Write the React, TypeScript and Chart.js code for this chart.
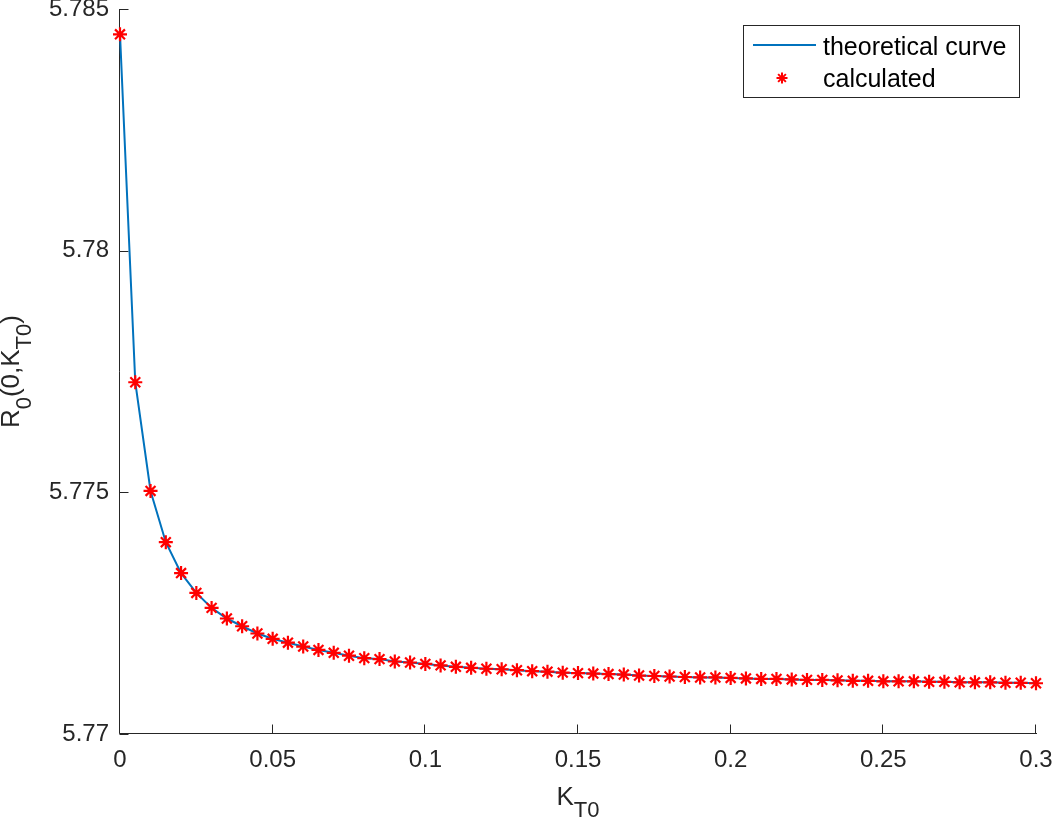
import React, { useEffect, useRef } from "react";
import { Chart, registerables } from "chart.js";

Chart.register(...registerables);

// ---- Data ----
const kT0Values = [
  0, 0.005, 0.01, 0.015, 0.02, 0.025, 0.03, 0.035, 0.04, 0.045,
  0.05, 0.055, 0.06, 0.065, 0.07, 0.075, 0.08, 0.085, 0.09, 0.095,
  0.1, 0.105, 0.11, 0.115, 0.12, 0.125, 0.13, 0.135, 0.14, 0.145,
  0.15, 0.155, 0.16, 0.165, 0.17, 0.175, 0.18, 0.185, 0.19, 0.195,
  0.2, 0.205, 0.21, 0.215, 0.22, 0.225, 0.23, 0.235, 0.24, 0.245,
  0.25, 0.255, 0.26, 0.265, 0.27, 0.275, 0.28, 0.285, 0.29, 0.295,
  0.3,
];

const calculatedR0 = [
  5.78448, 5.77728, 5.77503, 5.77397, 5.77333, 5.77292, 5.77261, 5.77239, 5.77223, 5.77208,
  5.77197, 5.77189, 5.77181, 5.77174, 5.77168, 5.77162, 5.77157, 5.77155, 5.7715, 5.77148,
  5.77145, 5.77142, 5.77139, 5.77137, 5.77135, 5.77134, 5.77132, 5.7713, 5.77129, 5.77127,
  5.77126, 5.77125, 5.77124, 5.77123, 5.77121, 5.7712, 5.77119, 5.77118, 5.77117, 5.77117,
  5.77116, 5.77115, 5.77114, 5.77114, 5.77113, 5.77112, 5.77112, 5.77111, 5.7711, 5.7711,
  5.77109, 5.77109, 5.77109, 5.77108, 5.77108, 5.77107, 5.77107, 5.77107, 5.77106, 5.77106,
  5.77105,
];

const theoreticalR0 = [
  5.78448, 5.77728, 5.77503, 5.77397, 5.77333, 5.77292, 5.77261, 5.77239, 5.77223, 5.77208,
  5.77197, 5.77189, 5.77181, 5.77174, 5.77168, 5.77162, 5.77157, 5.77155, 5.7715, 5.77148,
  5.77145, 5.77142, 5.77139, 5.77137, 5.77135, 5.77134, 5.77132, 5.7713, 5.77129, 5.77127,
  5.77126, 5.77125, 5.77124, 5.77123, 5.77121, 5.7712, 5.77119, 5.77118, 5.77117, 5.77117,
  5.77116, 5.77115, 5.77114, 5.77114, 5.77113, 5.77112, 5.77112, 5.77111, 5.7711, 5.7711,
  5.77109, 5.77109, 5.77109, 5.77108, 5.77108, 5.77107, 5.77107, 5.77107, 5.77106, 5.77106,
  5.77105,
];

const xTickValues = [0, 0.05, 0.1, 0.15, 0.2, 0.25, 0.3];
const yTickValues = [5.77, 5.775, 5.78, 5.785];

const legendLabels = ["theoretical curve", "calculated"];

const FONT = "'Liberation Sans', Arial, Helvetica, sans-serif";
const AXIS_COLOR = "#262626";
const LINE_COLOR = "#0072BD";
const MARKER_COLOR = "#FF0000";

function drawAsterisk(ctx: CanvasRenderingContext2D, x: number, y: number, r: number) {
  ctx.beginPath();
  for (let i = 0; i < 4; i++) {
    const a = (i * Math.PI) / 4;
    const dx = Math.sin(a) * r;
    const dy = Math.cos(a) * r;
    ctx.moveTo(x - dx, y - dy);
    ctx.lineTo(x + dx, y + dy);
  }
  ctx.stroke();
}

type Part = { text: string; sub?: boolean };

function drawParts(
  ctx: CanvasRenderingContext2D,
  parts: Part[],
  cx: number,
  baseline: number,
  mainSize: number,
  subSize: number,
  subDrop: number
) {
  const mainFont = `${mainSize}px ${FONT}`;
  const subFont = `${subSize}px ${FONT}`;
  let total = 0;
  const widths = parts.map((p) => {
    ctx.font = p.sub ? subFont : mainFont;
    const w = ctx.measureText(p.text).width;
    total += w;
    return w;
  });
  let x = cx - total / 2;
  ctx.textAlign = "left";
  ctx.textBaseline = "alphabetic";
  parts.forEach((p, i) => {
    ctx.font = p.sub ? subFont : mainFont;
    ctx.fillText(p.text, x, baseline + (p.sub ? subDrop : 0));
    x += widths[i];
  });
}

const matlabPlugin = {
  id: "matlabDecor",
  beforeDatasetsDraw(chart: any) {
    const { ctx, chartArea, scales } = chart;
    const xs = scales.x;
    const ys = scales.y;
    const left = Math.round(chartArea.left) - 0.5;
    const bottom = Math.round(chartArea.bottom) - 0.5;
    ctx.save();
    ctx.strokeStyle = AXIS_COLOR;
    ctx.lineWidth = 1;
    ctx.beginPath();
    ctx.moveTo(left, Math.round(chartArea.top));
    ctx.lineTo(left, bottom);
    ctx.lineTo(Math.round(chartArea.right) + 1, bottom);
    ctx.stroke();
    const tl = 9;
    ctx.beginPath();
    xTickValues.forEach((v) => {
      const px = Math.round(xs.getPixelForValue(v)) - 0.5;
      ctx.moveTo(px, bottom);
      ctx.lineTo(px, bottom - tl);
    });
    yTickValues.forEach((v) => {
      const py = Math.round(ys.getPixelForValue(v)) + 0.5;
      ctx.moveTo(left, py);
      ctx.lineTo(left + tl, py);
    });
    ctx.stroke();
    ctx.restore();
  },
  afterDraw(chart: any) {
    const { ctx, chartArea } = chart;
    ctx.save();
    ctx.fillStyle = AXIS_COLOR;

    // x-axis title: K_{T0}
    drawParts(
      ctx,
      [{ text: "K" }, { text: "T0", sub: true }],
      (chartArea.left + chartArea.right) / 2,
      805,
      26,
      22,
      12
    );

    // y-axis title: R_0(0,K_{T0})
    ctx.save();
    ctx.translate(19, (chartArea.top + chartArea.bottom) / 2);
    ctx.rotate(-Math.PI / 2);
    drawParts(
      ctx,
      [{ text: "R" }, { text: "0", sub: true }, { text: "(0,K" }, { text: "T0", sub: true }, { text: ")" }],
      0,
      0,
      26,
      22,
      12
    );
    ctx.restore();

    // legend
    const bx = 743.5;
    const by = 25.5;
    const bw = 276;
    const bh = 72;
    ctx.fillStyle = "#FFFFFF";
    ctx.fillRect(bx, by, bw, bh);
    ctx.strokeStyle = AXIS_COLOR;
    ctx.lineWidth = 1;
    ctx.strokeRect(bx, by, bw, bh);

    ctx.strokeStyle = LINE_COLOR;
    ctx.lineWidth = 2;
    ctx.beginPath();
    ctx.moveTo(753, 45);
    ctx.lineTo(816, 45);
    ctx.stroke();

    ctx.strokeStyle = MARKER_COLOR;
    ctx.lineWidth = 2;
    drawAsterisk(ctx, 782, 78, 5.5);

    ctx.fillStyle = "#000000";
    ctx.font = `25px ${FONT}`;
    ctx.textAlign = "left";
    ctx.textBaseline = "alphabetic";
    ctx.fillText(legendLabels[0], 823, 55);
    ctx.fillText(legendLabels[1], 823, 87);
    ctx.restore();
  },
};

export default function App() {
  const canvasRef = useRef<HTMLCanvasElement | null>(null);

  useEffect(() => {
    const canvas = canvasRef.current;
    if (!canvas) return;
    const lineData = kT0Values.map((x, i) => ({ x, y: theoreticalR0[i] }));
    const pointData = kT0Values.map((x, i) => ({ x, y: calculatedR0[i] }));

    const chart = new Chart(canvas, {
      type: "scatter",
      data: {
        datasets: [
          {
            label: legendLabels[1],
            data: pointData,
            showLine: false,
            pointStyle: "star",
            pointRadius: 7,
            pointBorderWidth: 2.2,
            borderColor: MARKER_COLOR,
            backgroundColor: MARKER_COLOR,
            order: 0,
            clip: false,
          },
          {
            label: legendLabels[0],
            data: lineData,
            showLine: true,
            borderColor: LINE_COLOR,
            borderWidth: 2,
            pointRadius: 0,
            tension: 0,
            order: 1,
            clip: false,
          },
        ],
      },
      options: {
        responsive: false,
        animation: false,
        devicePixelRatio: 1,
        layout: { padding: { top: 9, right: 17, left: 0, bottom: 0 } },
        plugins: {
          legend: { display: false },
          tooltip: { enabled: false },
          title: { display: false },
        },
        scales: {
          x: {
            type: "linear",
            min: 0,
            max: 0.3,
            grid: { display: false, drawTicks: false },
            border: { display: false },
            afterBuildTicks: (s: any) => {
              s.ticks = xTickValues.map((v) => ({ value: v }));
            },
            afterFit: (s: any) => {
              s.height = 84;
              s.paddingLeft = 0;
              s.paddingRight = 0;
            },
            ticks: {
              autoSkip: false,
              maxRotation: 0,
              padding: 12,
              color: AXIS_COLOR,
              font: { family: FONT, size: 24 },
              callback: (v: any) => String(Number(Number(v).toFixed(3))),
            },
          },
          y: {
            type: "linear",
            min: 5.77,
            max: 5.785,
            grid: { display: false, drawTicks: false },
            border: { display: false },
            afterBuildTicks: (s: any) => {
              s.ticks = yTickValues.map((v) => ({ value: v }));
            },
            afterFit: (s: any) => {
              s.width = 120;
              s.paddingTop = 0;
              s.paddingBottom = 0;
            },
            ticks: {
              autoSkip: false,
              padding: 11,
              color: AXIS_COLOR,
              font: { family: FONT, size: 24 },
              callback: (v: any) => String(Number(Number(v).toFixed(4))),
            },
          },
        },
      },
      plugins: [matlabPlugin],
    });

    return () => {
      chart.destroy();
    };
  }, []);

  return (
    <div style={{ position: "absolute", left: 0, top: 0, width: 1053, height: 818, background: "#FFFFFF" }}>
      <canvas ref={canvasRef} width={1053} height={818} style={{ width: 1053, height: 818, display: "block" }} />
    </div>
  );
}
